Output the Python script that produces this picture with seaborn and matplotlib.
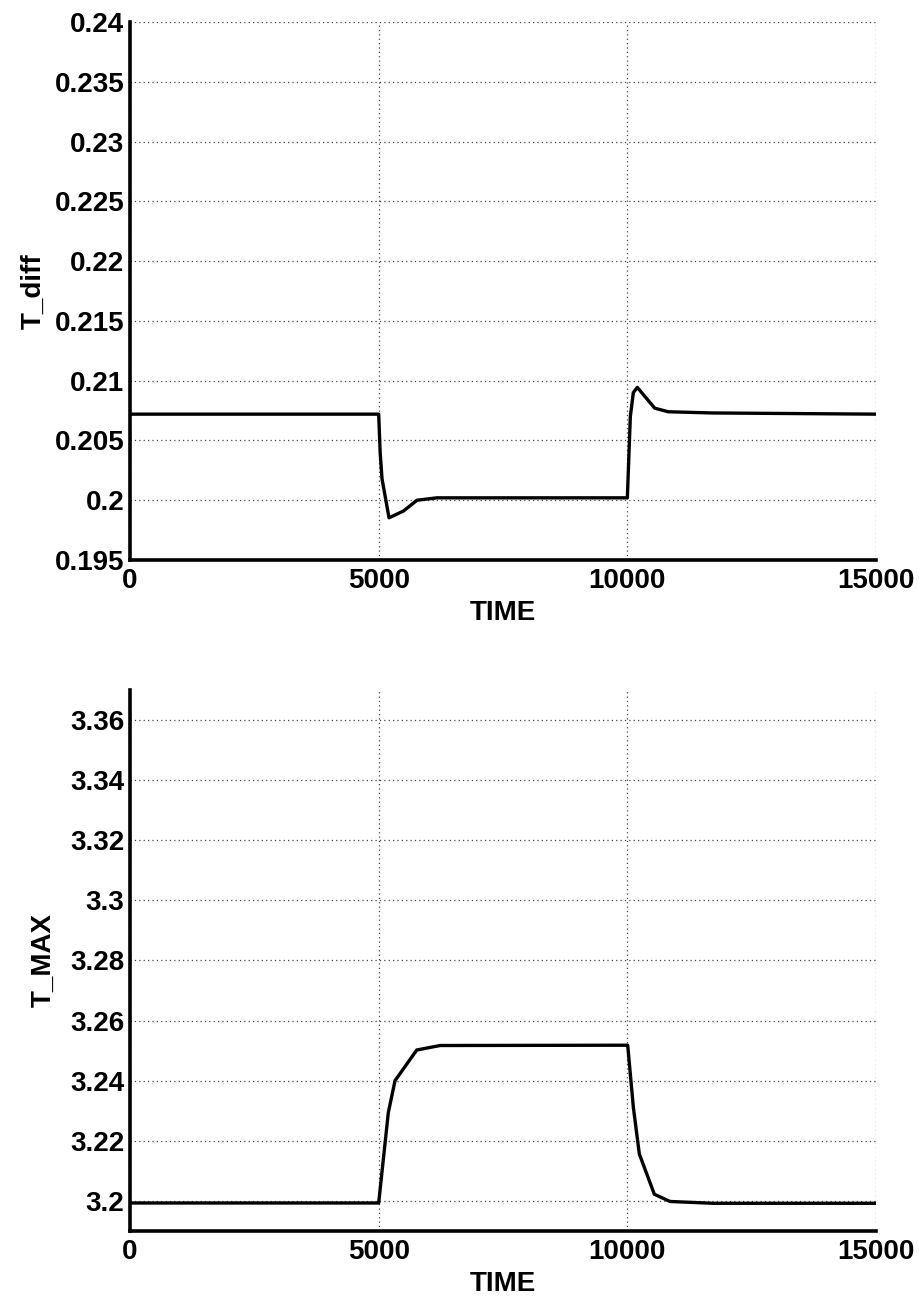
import matplotlib
matplotlib.use("Agg")
import matplotlib.pyplot as plt
import seaborn as sns
import pandas as pd
from matplotlib.ticker import FixedLocator, FixedFormatter

# ---- data ----
time_diff = [0, 5000, 5030, 5067, 5208, 5500, 5770, 6170, 10000,
             10060, 10120, 10200, 10550, 10820, 11700, 15000]
t_diff = [0.2072, 0.2072, 0.2040, 0.2018, 0.19853, 0.1991, 0.2000, 0.2002, 0.2002,
          0.2070, 0.2090, 0.20944, 0.2077, 0.2074, 0.2073, 0.2072]

time_max = [0, 5000, 5194, 5329, 5765, 6234, 9990,
            10007, 10121, 10241, 10543, 10859, 11730, 15000]
t_max = [3.1993, 3.1993, 3.2294, 3.2400, 3.2502, 3.2517, 3.2518,
         3.2518, 3.2311, 3.2156, 3.2022, 3.1998, 3.1992, 3.1992]

x_ticks = [0, 5000, 10000, 15000]
x_labels = ["0", "5000", "10000", "15000"]
y1_ticks = [0.195, 0.2, 0.205, 0.21, 0.215, 0.22, 0.225, 0.23, 0.235, 0.24]
y1_labels = ["0.195", "0.2", "0.205", "0.21", "0.215", "0.22", "0.225", "0.23", "0.235", "0.24"]
y2_ticks = [3.2, 3.22, 3.24, 3.26, 3.28, 3.3, 3.32, 3.34, 3.36]
y2_labels = ["3.2", "3.22", "3.24", "3.26", "3.28", "3.3", "3.32", "3.34", "3.36"]

sns.set_style("white")
plt.rcParams['font.family'] = ['Liberation Sans', 'DejaVu Sans']
plt.rcParams['font.weight'] = 'bold'
plt.rcParams['text.color'] = 'black'
plt.rcParams['axes.labelcolor'] = 'black'

fig = plt.figure(figsize=(9.2, 12.96), dpi=100)
ax1 = fig.add_axes([0.1413, 0.5679, 0.8109, 0.4151])
ax2 = fig.add_axes([0.1413, 0.0502, 0.8109, 0.4174])

df1 = pd.DataFrame({"TIME": time_diff, "T_diff": t_diff})
df2 = pd.DataFrame({"TIME": time_max, "T_MAX": t_max})

sns.lineplot(data=df1, x="TIME", y="T_diff", ax=ax1, color="black", lw=2.4, sort=False)
sns.lineplot(data=df2, x="TIME", y="T_MAX", ax=ax2, color="black", lw=2.4, sort=False)

fs = 20
for ax, yt, yl, ylim, ylab, ypad in [(ax1, y1_ticks, y1_labels, (0.195, 0.24), "T_diff", 6),
                                     (ax2, y2_ticks, y2_labels, (3.19, 3.37), "T_MAX", 10)]:
    ax.set_xlim(0, 15000)
    ax.set_ylim(*ylim)
    ax.xaxis.set_major_locator(FixedLocator(x_ticks))
    ax.xaxis.set_major_formatter(FixedFormatter(x_labels))
    ax.yaxis.set_major_locator(FixedLocator(yt))
    ax.yaxis.set_major_formatter(FixedFormatter(yl))
    ax.grid(True, linestyle=(0, (1, 2.5)), color="#444444", lw=0.9)
    ax.set_axisbelow(True)
    for s in ["top", "right"]:
        ax.spines[s].set_visible(False)
    for s in ["left", "bottom"]:
        ax.spines[s].set_linewidth(2.6)
        ax.spines[s].set_color("black")
    ax.tick_params(direction="in", length=7, width=2.2, labelsize=fs, pad=4,
                   colors="black", labelcolor="black")
    ax.tick_params(axis="x", pad=6)
    for lbl in ax.get_xticklabels() + ax.get_yticklabels():
        lbl.set_fontweight("bold")
    ax.set_xlabel("TIME", fontsize=fs, fontweight="bold", labelpad=4, color="black")
    ax.set_ylabel(ylab, fontsize=fs, fontweight="bold", labelpad=ypad, color="black")

fig.savefig("out.png", dpi=100, facecolor="white")
